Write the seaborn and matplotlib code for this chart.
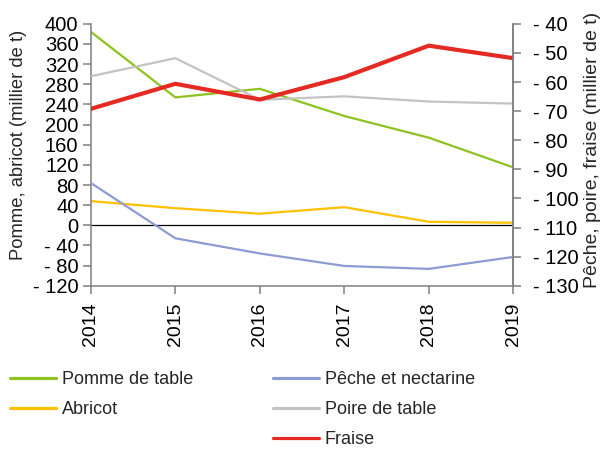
import matplotlib
matplotlib.use('Agg')
import matplotlib.pyplot as plt
from matplotlib.lines import Line2D
import seaborn as sns
import pandas as pd

# données
annees = [2014, 2015, 2016, 2017, 2018, 2019]
pomme = [384, 254, 271, 217, 174, 115]
abricot = [48, 34, 23, 36, 7, 5]
peche = [-94.7, -113.7, -118.9, -123.2, -124.2, -120.1]
poire = [-58.0, -51.8, -66.1, -64.9, -66.7, -67.4]
fraise = [-69.2, -60.6, -66.0, -58.3, -47.5, -51.8]

gauche_ticks = list(range(-120, 401, 40))
droite_ticks = list(range(-130, -39, 10))

sns.set_style('white')
plt.rcParams['font.family'] = ['Liberation Sans', 'DejaVu Sans']

df = pd.DataFrame({'annee': annees, 'pomme': pomme, 'abricot': abricot,
                   'peche': peche, 'poire': poire, 'fraise': fraise})

fig = plt.figure(figsize=(6.06, 4.5), dpi=100)
ax = fig.add_axes([0.150, 0.365, 0.697, 0.582])
ax2 = ax.twinx()

vert = '#8DC21F'
jaune = '#FFC000'
bleu = '#8E9BD3'
gris = '#C3C3C3'
rouge = '#E42A22'

sns.lineplot(data=df, x='annee', y='pomme', ax=ax, color=vert, lw=1.6)
sns.lineplot(data=df, x='annee', y='abricot', ax=ax, color=jaune, lw=1.6)
sns.lineplot(data=df, x='annee', y='peche', ax=ax2, color=bleu, lw=1.6)
sns.lineplot(data=df, x='annee', y='poire', ax=ax2, color=gris, lw=1.6)
sns.lineplot(data=df, x='annee', y='fraise', ax=ax2, color=rouge, lw=3)

ax.axhline(0, color='black', lw=0.9, zorder=1)

ax.set_xlim(2014, 2019)
ax.set_ylim(-120, 400)
ax2.set_ylim(-130, -40)
ax.set_xticks(annees)
ax.set_xticklabels([str(a) for a in annees], rotation=90)
ax.set_yticks(gauche_ticks)
ax.set_yticklabels([('- ' + str(-v)) if v < 0 else str(v) for v in gauche_ticks])
ax2.set_yticks(droite_ticks)
ax2.set_yticklabels(['- ' + str(-v) for v in droite_ticks])

for a in (ax, ax2):
    a.spines['top'].set_visible(False)
    for s in ('left', 'right', 'bottom'):
        a.spines[s].set_color('#7F7F7F')
        a.spines[s].set_linewidth(1.1)
    a.tick_params(axis='both', direction='out', length=6, width=1.1,
                  color='#7F7F7F', labelsize=14.5, labelcolor='black')
ax.tick_params(axis='y', left=True, pad=3)
ax.tick_params(axis='x', bottom=True, pad=6, labelsize=14)
ax2.tick_params(axis='y', right=True, pad=8)
ax2.spines['left'].set_visible(False)
ax2.spines['bottom'].set_visible(False)

ax.set_xlabel('')
ax.set_ylabel('Pomme, abricot (millier de t)', fontsize=13.2)
ax2.set_ylabel('Pêche, poire, fraise (millier de t)', fontsize=14,
               rotation=90)
ax.yaxis.set_label_coords(-0.152, 0.538)
ax2.yaxis.set_label_coords(1.167, 0.519)

# légende : une case vide pour garder Abricot seul dans la 1re colonne
h = [Line2D([], [], color=vert, lw=2.3),
     Line2D([], [], color=jaune, lw=2.3),
     Line2D([], [], color='none'),
     Line2D([], [], color=bleu, lw=2.3),
     Line2D([], [], color=gris, lw=2.3),
     Line2D([], [], color=rouge, lw=2.3)]
lab = ['Pomme de table', 'Abricot', '', 'Pêche et nectarine',
       'Poire de table', 'Fraise']
fig.legend(h, lab, ncol=2, loc='upper left', bbox_to_anchor=(0.005, 0.191),
           frameon=False, fontsize=13, handlelength=2.55, handletextpad=0.33,
           columnspacing=4.4, labelspacing=0.72, borderaxespad=0)

fig.savefig('out.png', dpi=100)
